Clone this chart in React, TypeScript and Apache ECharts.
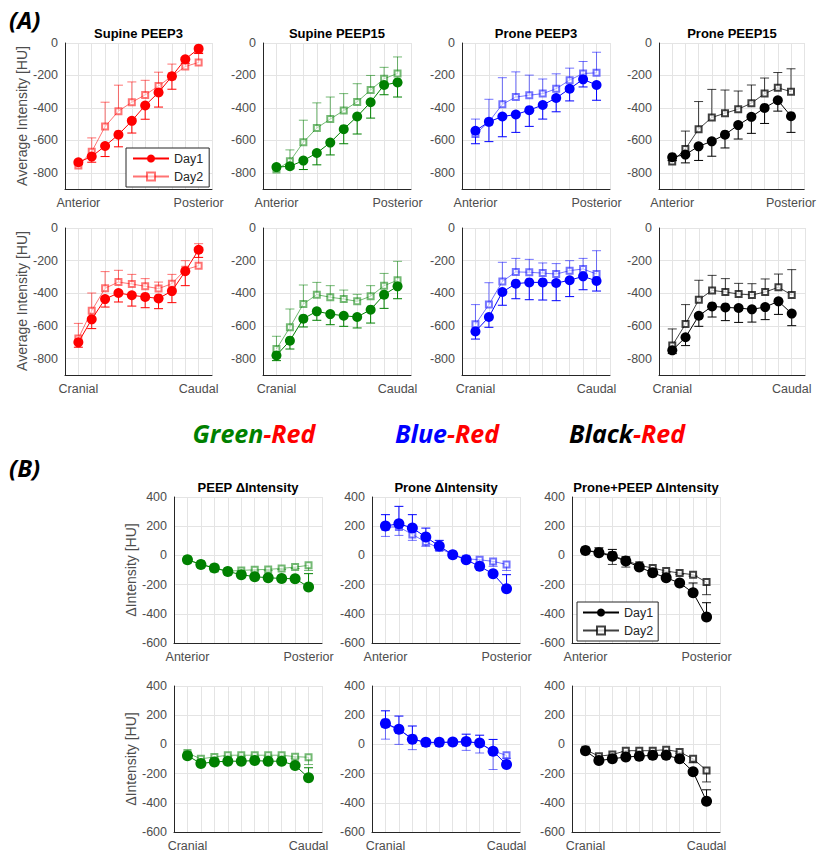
import React, { useEffect, useRef } from 'react';
import * as echarts from 'echarts';

// ---------- data ----------
const positions = [1, 2, 3, 4, 5, 6, 7, 8, 9, 10];
const apLabels = ['Anterior', 'Posterior'];
const ccLabels = ['Cranial', 'Caudal'];
const avgTickLabels = [0, -200, -400, -600, -800];
const deltaTickLabels = [400, 200, 0, -200, -400, -600];

// (A) Average intensity, anterior -> posterior
const supP3AP_d1 = [-735, -700, -635, -565, -480, -385, -305, -205, -100, -35];
const supP3AP_e1 = [15, 35, 65, 75, 75, 85, 90, 80, 25, 30];
const supP3AP_d2 = [-755, -670, -515, -420, -365, -320, -265, -205, -145, -120];
const supP3AP_e2 = [10, 85, 150, 160, 125, 90, 85, 75, 55, 60];

const supP15AP_d1 = [-765, -760, -725, -678, -614, -531, -453, -365, -259, -243];
const supP15AP_e1 = [10, 15, 55, 73, 76, 90, 108, 98, 60, 90];
const supP15AP_d2 = [-780, -729, -612, -524, -469, -416, -363, -290, -220, -188];
const supP15AP_e2 = [5, 70, 136, 155, 136, 104, 112, 90, 70, 102];

const proP3AP_d1 = [-541, -486, -453, -441, -414, -382, -339, -282, -224, -259];
const proP3AP_e1 = [80, 122, 125, 110, 100, 87, 85, 75, 47, 94];
const proP3AP_d2 = [-561, -486, -378, -333, -322, -312, -282, -229, -188, -184];
const proP3AP_e2 = [92, 139, 164, 155, 124, 90, 92, 74, 74, 127];

const proP15AP_d1 = [-704, -688, -637, -606, -565, -506, -455, -400, -353, -451];
const proP15AP_e1 = [20, 51, 87, 92, 82, 86, 102, 96, 67, 100];
const proP15AP_d2 = [-731, -653, -531, -459, -433, -408, -371, -312, -276, -300];
const proP15AP_e2 = [5, 110, 170, 173, 143, 112, 112, 96, 94, 141];

// (A) Average intensity, cranial -> caudal
const supP3CC_d1 = [-700, -559, -435, -398, -412, -422, -431, -386, -265, -133];
const supP3CC_e1 = [30, 57, 49, 55, 66, 66, 63, 71, 88, 47];
const supP3CC_d2 = [-676, -506, -369, -331, -343, -357, -371, -341, -255, -231];
const supP3CC_e2 = [92, 108, 102, 72, 59, 47, 40, 57, 55, 135];

const supP15CC_d1 = [-780, -690, -555, -510, -527, -537, -545, -500, -408, -357];
const supP15CC_e1 = [32, 51, 51, 55, 65, 65, 67, 82, 84, 76];
const supP15CC_d2 = [-741, -608, -465, -408, -424, -435, -449, -418, -353, -320];
const supP15CC_e2 = [78, 112, 116, 75, 71, 55, 43, 65, 75, 116];

const proP3CC_d1 = [-633, -545, -392, -341, -333, -333, -337, -320, -296, -324];
const proP3CC_e1 = [47, 63, 81, 92, 106, 108, 108, 100, 82, 62];
const proP3CC_d2 = [-590, -469, -327, -269, -271, -276, -282, -261, -251, -282];
const proP3CC_e2 = [121, 134, 117, 83, 79, 62, 64, 61, 65, 143];

const proP15CC_d1 = [-749, -669, -537, -480, -486, -490, -498, -484, -449, -524];
const proP15CC_e1 = [20, 51, 65, 65, 81, 88, 78, 77, 80, 74];
const proP15CC_d2 = [-720, -588, -439, -382, -392, -404, -410, -392, -363, -410];
const proP15CC_e2 = [102, 119, 119, 92, 82, 65, 69, 80, 81, 155];

// (B) Delta intensity, anterior -> posterior
const peepDAP_d1 = [-30, -62, -87, -110, -132, -146, -153, -158, -160, -216];
const peepDAP_e1 = [8, 8, 8, 8, 8, 8, 8, 8, 10, 91];
const peepDAP_d2 = [-30, -60, -85, -108, -103, -98, -96, -89, -80, -68];
const peepDAP_e2 = [8, 8, 28, 8, 8, 8, 8, 8, 10, 35];

const proneDAP_d1 = [201, 217, 187, 126, 64, 5, -30, -75, -126, -228];
const proneDAP_e1 = [78, 119, 92, 61, 39, 10, 19, 10, 10, 96];
const proneDAP_d2 = [194, 194, 144, 91, 50, 5, -23, -30, -41, -62];
const proneDAP_e2 = [64, 57, 41, 29, 16, 8, 10, 27, 34, 41];

const bothDAP_d1 = [34, 18, -5, -39, -80, -119, -153, -189, -256, -422];
const bothDAP_e1 = [8, 34, 46, 28, 8, 8, 8, 8, 67, 98];
const bothDAP_d2 = [34, 23, 0, -34, -68, -87, -107, -121, -132, -183];
const bothDAP_e2 = [8, 8, 62, 46, 8, 8, 8, 8, 10, 86];

// (B) Delta intensity, cranial -> caudal
const peepDCC_d1 = [-77, -131, -120, -115, -115, -111, -115, -115, -144, -228];
const peepDCC_e1 = [23, 10, 10, 10, 10, 10, 10, 10, 10, 68];
const peepDCC_d2 = [-59, -99, -86, -74, -74, -74, -74, -74, -84, -88];
const peepDCC_e2 = [8, 8, 8, 8, 8, 8, 8, 8, 10, 50];

const proneDCC_d1 = [144, 104, 36, 14, 14, 16, 20, 9, -47, -138];
const proneDCC_e1 = [86, 90, 90, 10, 10, 10, 50, 54, 81, 10];
const proneDCC_d2 = [140, 100, 40, 10, 12, 15, 15, 10, -45, -75];
const proneDCC_e2 = [104, 100, 76, 20, 15, 15, 56, 69, 127, 20];

const bothDCC_d1 = [-43, -111, -99, -86, -81, -74, -74, -99, -187, -390];
const bothDCC_e1 = [10, 10, 10, 10, 10, 10, 10, 10, 10, 79];
const bothDCC_d2 = [-36, -81, -70, -43, -43, -43, -36, -52, -99, -178];
const bothDCC_e2 = [8, 8, 8, 8, 8, 8, 8, 8, 27, 79];

// ---------- styling ----------
const FONT = "'Liberation Sans', Arial, Helvetica, sans-serif";
const HEAD_FONT = "'Open Sans', 'Liberation Sans', sans-serif";
const AXIS = '#262626';
const LABEL = '#4d4d4d';
const GRIDC = '#e4e4e4';
const RED = '#ff0000';
const GREEN = '#008000';
const BLUE = '#0000ff';
const BLACK = '#000000';

type Panel = {
  left: number; top: number; width: number; height: number;
  kind: 'avg' | 'delta';
  color: string;
  d1: number[]; e1: number[]; d2: number[]; e2: number[];
  xLabels: string[];
  n1?: string; n2?: string;
};

const aCols = [65, 263, 462, 659];
const aW = [147, 148, 148, 146];
const aRows = [43, 228];
const aH = 146;
const bCols = [174, 372, 572];
const bW = 148;
const bRows = [497, 686];
const bH = 146;

const panels: Panel[] = [
  { left: aCols[0], top: aRows[0], width: aW[0], height: aH, kind: 'avg', color: RED, d1: supP3AP_d1, e1: supP3AP_e1, d2: supP3AP_d2, e2: supP3AP_e2, xLabels: apLabels, n1: 'Day1', n2: 'Day2' },
  { left: aCols[1], top: aRows[0], width: aW[1], height: aH, kind: 'avg', color: GREEN, d1: supP15AP_d1, e1: supP15AP_e1, d2: supP15AP_d2, e2: supP15AP_e2, xLabels: apLabels },
  { left: aCols[2], top: aRows[0], width: aW[2], height: aH, kind: 'avg', color: BLUE, d1: proP3AP_d1, e1: proP3AP_e1, d2: proP3AP_d2, e2: proP3AP_e2, xLabels: apLabels },
  { left: aCols[3], top: aRows[0], width: aW[3], height: aH, kind: 'avg', color: BLACK, d1: proP15AP_d1, e1: proP15AP_e1, d2: proP15AP_d2, e2: proP15AP_e2, xLabels: apLabels },
  { left: aCols[0], top: aRows[1], width: aW[0], height: aH + 1, kind: 'avg', color: RED, d1: supP3CC_d1, e1: supP3CC_e1, d2: supP3CC_d2, e2: supP3CC_e2, xLabels: ccLabels },
  { left: aCols[1], top: aRows[1], width: aW[1], height: aH + 1, kind: 'avg', color: GREEN, d1: supP15CC_d1, e1: supP15CC_e1, d2: supP15CC_d2, e2: supP15CC_e2, xLabels: ccLabels },
  { left: aCols[2], top: aRows[1], width: aW[2], height: aH + 1, kind: 'avg', color: BLUE, d1: proP3CC_d1, e1: proP3CC_e1, d2: proP3CC_d2, e2: proP3CC_e2, xLabels: ccLabels },
  { left: aCols[3], top: aRows[1], width: aW[3], height: aH + 1, kind: 'avg', color: BLACK, d1: proP15CC_d1, e1: proP15CC_e1, d2: proP15CC_d2, e2: proP15CC_e2, xLabels: ccLabels },
  { left: bCols[0], top: bRows[0], width: bW, height: bH, kind: 'delta', color: GREEN, d1: peepDAP_d1, e1: peepDAP_e1, d2: peepDAP_d2, e2: peepDAP_e2, xLabels: apLabels },
  { left: bCols[1], top: bRows[0], width: bW, height: bH, kind: 'delta', color: BLUE, d1: proneDAP_d1, e1: proneDAP_e1, d2: proneDAP_d2, e2: proneDAP_e2, xLabels: apLabels },
  { left: bCols[2], top: bRows[0], width: bW, height: bH, kind: 'delta', color: BLACK, d1: bothDAP_d1, e1: bothDAP_e1, d2: bothDAP_d2, e2: bothDAP_e2, xLabels: apLabels, n1: 'Day1 (B)', n2: 'Day2 (B)' },
  { left: bCols[0], top: bRows[1], width: bW, height: bH, kind: 'delta', color: GREEN, d1: peepDCC_d1, e1: peepDCC_e1, d2: peepDCC_d2, e2: peepDCC_e2, xLabels: ccLabels },
  { left: bCols[1], top: bRows[1], width: bW, height: bH, kind: 'delta', color: BLUE, d1: proneDCC_d1, e1: proneDCC_e1, d2: proneDCC_d2, e2: proneDCC_e2, xLabels: ccLabels },
  { left: bCols[2], top: bRows[1], width: bW, height: bH, kind: 'delta', color: BLACK, d1: bothDCC_d1, e1: bothDCC_e1, d2: bothDCC_d2, e2: bothDCC_e2, xLabels: ccLabels },
];

const aTitles = ['Supine PEEP3', 'Supine PEEP15', 'Prone PEEP3', 'Prone PEEP15'];
const bTitles = ['PEEP ΔIntensity', 'Prone ΔIntensity', 'Prone+PEEP ΔIntensity'];

const makeErr = (color: string, opacity: number, cap: number) => (_p: any, api: any) => {
  const x = api.value(0);
  const a = api.value(1);
  const b = api.value(2);
  const p0 = api.coord([x, a]);
  const p1 = api.coord([x, b]);
  const style = { stroke: color, lineWidth: 1, opacity, fill: 'none' };
  return {
    type: 'group',
    children: [
      { type: 'line', shape: { x1: p0[0], y1: p0[1], x2: p1[0], y2: p1[1] }, style },
      { type: 'line', shape: { x1: p1[0] - cap, y1: p1[1], x2: p1[0] + cap, y2: p1[1] }, style },
    ],
  };
};

function txt(x: number, y: number, text: string, font: string, fill: string, extra: any = {}) {
  return {
    type: 'text', x, y, silent: true, ...extra,
    style: { text, font, fill, align: 'center', verticalAlign: 'middle', textAlign: 'center', textVerticalAlign: 'middle' },
  };
}

function buildOption() {
  const option: any = {
    animation: false,
    backgroundColor: '#ffffff',
    grid: [], xAxis: [], yAxis: [], series: [], legend: [], graphic: [],
  };
  panels.forEach((p, i) => {
    const isAvg = p.kind === 'avg';
    const ticks = isAvg ? avgTickLabels : deltaTickLabels;
    option.grid.push({ left: p.left, top: p.top, width: p.width, height: p.height });
    option.xAxis.push({
      type: 'value', gridIndex: i, min: 0, max: 11, interval: 1,
      axisLine: { show: true, onZero: false, lineStyle: { color: AXIS, width: 1 } },
      axisTick: { show: false },
      axisLabel: {
        color: LABEL, fontSize: 12.5, fontFamily: FONT, margin: 7, hideOverlap: false,
        formatter: (v: number) => (v === positions[0] ? p.xLabels[0] : v === positions[positions.length - 1] ? p.xLabels[1] : ''),
      },
      splitLine: { show: true, lineStyle: { color: GRIDC, width: 1 } },
    });
    option.yAxis.push({
      type: 'value', gridIndex: i,
      min: isAvg ? -900 : -600, max: isAvg ? 0 : 400, interval: isAvg ? 100 : 200,
      axisLine: { show: true, onZero: false, lineStyle: { color: AXIS, width: 1 } },
      axisTick: { show: false },
      axisLabel: {
        color: LABEL, fontSize: 12.5, fontFamily: FONT, margin: 7,
        formatter: (v: number) => (ticks.includes(v) ? String(v) : ''),
      },
      splitLine: { show: true, lineStyle: { color: isAvg ? ['rgba(0,0,0,0)', GRIDC] : GRIDC, width: 1 } },
    });
    const dir1 = isAvg ? -1 : 1;
    const dir2 = -dir1;
    const op2 = p.color === BLACK ? 0.75 : 0.55;
    option.series.push({
      type: 'custom', xAxisIndex: i, yAxisIndex: i, silent: true, z: 2,
      renderItem: makeErr(p.color, op2, 4.5), encode: { x: 0, y: [1, 2] },
      data: p.d2.map((v, k) => [positions[k], v, v + dir2 * p.e2[k]]),
    });
    option.series.push({
      type: 'custom', xAxisIndex: i, yAxisIndex: i, silent: true, z: 2,
      renderItem: makeErr(p.color, 1, 4.5), encode: { x: 0, y: [1, 2] },
      data: p.d1.map((v, k) => [positions[k], v, v + dir1 * p.e1[k]]),
    });
    option.series.push({
      type: 'line', name: p.n2 ?? `panel${i}-Day2`, xAxisIndex: i, yAxisIndex: i, z: 3,
      data: p.d2.map((v, k) => [positions[k], v]),
      symbol: 'emptyRect', symbolSize: 6, color: p.color,
      lineStyle: { width: 1, opacity: op2 }, itemStyle: { opacity: op2, borderWidth: 1 },
    });
    option.series.push({
      type: 'line', name: p.n1 ?? `panel${i}-Day1`, xAxisIndex: i, yAxisIndex: i, z: 4,
      data: p.d1.map((v, k) => [positions[k], v]),
      symbol: 'circle', symbolSize: isAvg ? 10 : 11, color: p.color,
      lineStyle: { width: 1 },
    });
  });

  const legendBase = {
    orient: 'vertical', itemHeight: 10, itemGap: 5, backgroundColor: '#fff',
    borderColor: AXIS, borderWidth: 1, borderRadius: 0, selectedMode: false,
    textStyle: { fontSize: 12.5, fontFamily: FONT, color: AXIS },
    formatter: (n: string) => n.replace(' (B)', ''),
  };
  option.legend.push({ ...legendBase, left: 126, top: 148, itemWidth: 36, padding: [4, 6, 4, 6], data: ['Day1', 'Day2'] });
  option.legend.push({ ...legendBase, left: 577, top: 602, itemWidth: 36, padding: [4, 5, 4, 5], data: ['Day1 (B)', 'Day2 (B)'] });

  const g = option.graphic;
  const headFont = `italic bold 24px ${HEAD_FONT}`;
  g.push({ type: 'text', x: 9, y: 19, silent: true, style: { text: '(A)', font: headFont, fill: '#000', align: 'left', verticalAlign: 'middle', textAlign: 'left', textVerticalAlign: 'middle' } });
  g.push({ type: 'text', x: 9, y: 467, silent: true, style: { text: '(B)', font: headFont, fill: '#000', align: 'left', verticalAlign: 'middle', textAlign: 'left', textVerticalAlign: 'middle' } });

  aTitles.forEach((t, c) => g.push(txt(aCols[c] + aW[c] / 2, 33, t, `bold 13px ${FONT}`, '#000')));
  bTitles.forEach((t, c) => g.push(txt(bCols[c] + bW / 2, 487, t, `bold 13px ${FONT}`, '#000')));

  const bigFont = `italic bold 25px ${HEAD_FONT}`;
  const heads = [
    { a: 'Green', ca: GREEN, x: 254 },
    { a: 'Blue', ca: BLUE, x: 447 },
    { a: 'Black', ca: BLACK, x: 627 },
  ];
  heads.forEach((h) => {
    g.push({
      type: 'text', x: h.x, y: 433, silent: true,
      style: {
        text: `{a|${h.a}}{b|-Red}`, align: 'center', verticalAlign: 'middle', textAlign: 'center', textVerticalAlign: 'middle',
        rich: { a: { font: bigFont, fill: h.ca, color: h.ca }, b: { font: bigFont, fill: RED, color: RED } },
      },
    });
  });

  const yFont = `14px ${FONT}`;
  g.push(txt(22, aRows[0] + aH / 2, 'Average Intensity [HU]', yFont, LABEL, { rotation: Math.PI / 2 }));
  g.push(txt(22, aRows[1] + aH / 2, 'Average Intensity [HU]', yFont, LABEL, { rotation: Math.PI / 2 }));
  g.push(txt(131, bRows[0] + bH / 2, 'ΔIntensity [HU]', yFont, LABEL, { rotation: Math.PI / 2 }));
  g.push(txt(131, bRows[1] + bH / 2, 'ΔIntensity [HU]', yFont, LABEL, { rotation: Math.PI / 2 }));

  return option;
}

export default function App() {
  const ref = useRef<HTMLDivElement>(null);
  useEffect(() => {
    if (!ref.current) return;
    const chart = echarts.init(ref.current, undefined, { renderer: 'svg' });
    chart.setOption(buildOption());
    return () => chart.dispose();
  }, []);
  return <div ref={ref} style={{ position: 'absolute', left: 0, top: 0, width: 819, height: 853, background: '#fff' }} />;
}
